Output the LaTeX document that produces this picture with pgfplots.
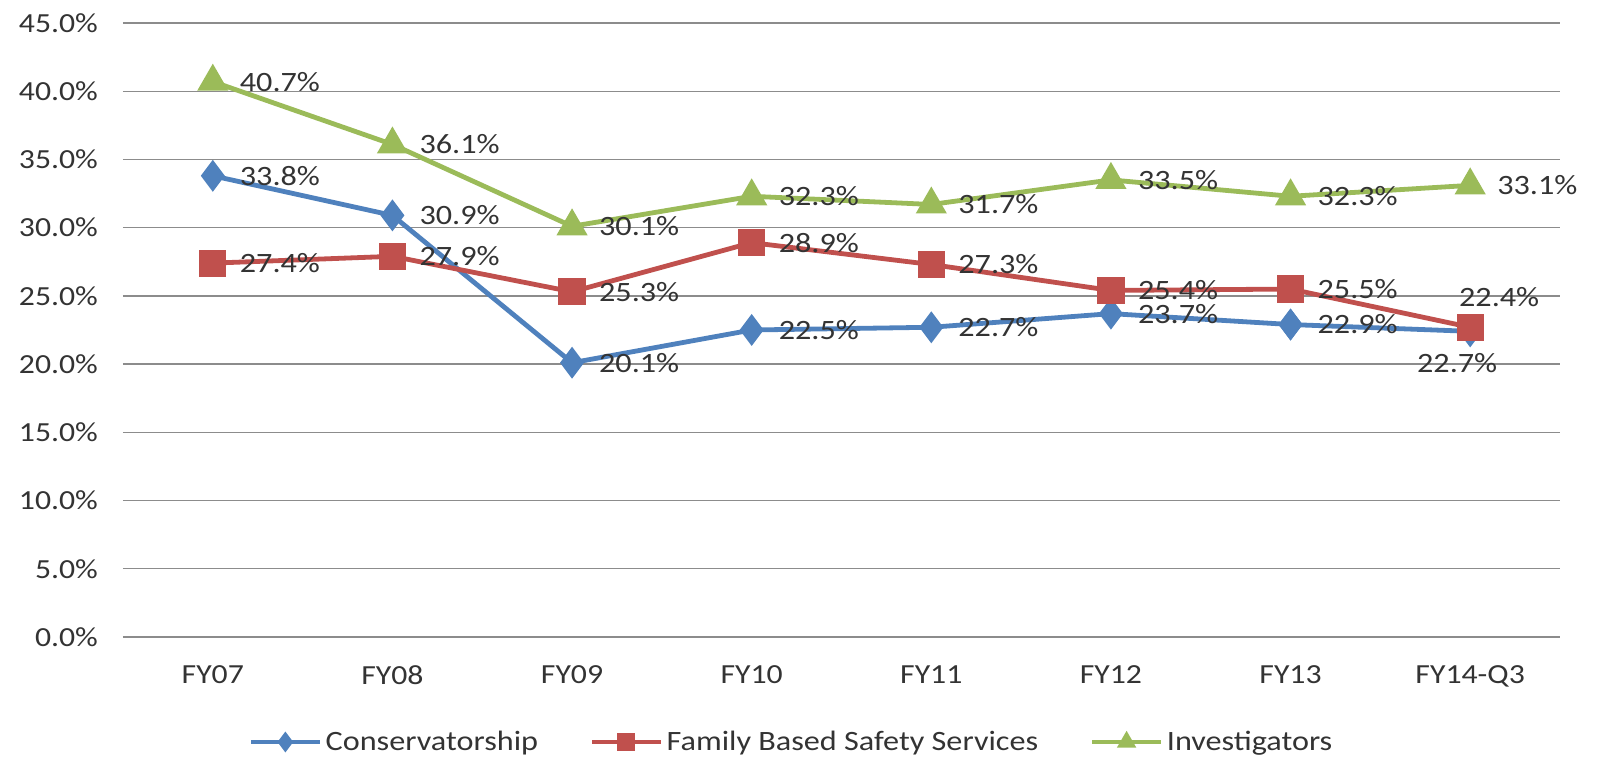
\documentclass[border=0pt]{standalone}
\usepackage{fontspec}
\setmainfont{Carlito}[FakeStretch=1.15]
\usepackage{pgfplots}
\usepackage{pgfplotstable}
\pgfplotsset{compat=1.18}
\definecolor{cblue}{HTML}{4F81BD}
\definecolor{cred}{HTML}{C0504D}
\definecolor{cgreen}{HTML}{9BBB59}
\definecolor{txt}{HTML}{333333}
\pgfplotstableread{
x y lab
0 33.8 33.8\%
1 30.9 30.9\%
2 20.1 20.1\%
3 22.5 22.5\%
4 22.7 22.7\%
5 23.7 23.7\%
6 22.9 22.9\%
}\cons
\pgfplotstableread{
x y lab
0 27.4 27.4\%
1 27.9 27.9\%
2 25.3 25.3\%
3 28.9 28.9\%
4 27.3 27.3\%
5 25.4 25.4\%
6 25.5 25.5\%
}\fbss
\pgfplotstableread{
x y lab
0 40.7 40.7\%
1 36.1 36.1\%
2 30.1 30.1\%
3 32.3 32.3\%
4 31.7 31.7\%
5 33.5 33.5\%
6 32.3 32.3\%
7 33.1 33.1\%
}\inv
\begin{document}
\begin{tikzpicture}
\useasboundingbox (-61.5pt,-64pt) rectangle (739pt,318.5pt);
\begin{axis}[
  scale only axis,
  width=718.5pt, height=307pt,
  xmin=-0.5, xmax=7.5, ymin=0, ymax=45,
  xtick={0,...,7},
  xticklabels={FY07,FY08,FY09,FY10,FY11,FY12,FY13,FY14-Q3},
  ytick={0,5,...,45},
  yticklabels={0.0\%,5.0\%,10.0\%,15.0\%,20.0\%,25.0\%,30.0\%,35.0\%,40.0\%,45.0\%},
  axis line style={draw=none},
  major tick length=0pt,
  ymajorgrids,
  grid style={draw=black!45, line width=0.7pt},
  tick label style={font=\fontsize{13.8}{15}\selectfont, text=txt},
  yticklabel style={xshift=-9pt},
  xticklabel style={yshift=-11pt},
  clip=false,
  every axis plot/.append style={line width=2.4pt},
  nodes near coords style={font=\fontsize{14}{16}\selectfont, text=txt, anchor=west, xshift=9pt},
  legend style={at={(0.466,-0.171)}, anchor=center, draw=none, fill=none,
    font=\fontsize{14}{15}\selectfont, text=txt,
    legend columns=-1, /tikz/every even column/.append style={column sep=24pt}},
  legend image code/.code={\draw[mark repeat=2,mark phase=2,line width=2.2pt] plot coordinates {(0cm,0cm)(0.6cm,0cm)(1.2cm,0cm)};},
  every legend image post/.append style={mark size=3.4pt},
]
\addplot[color=cblue, mark=diamond*, mark size=6pt, mark options={solid},
  nodes near coords, point meta=explicit symbolic]
  table[x=x,y=y,meta=lab] {\cons};
\addlegendentry{Conservatorship}
\addplot[color=cred, mark=square*, mark size=5.6pt,
  nodes near coords, point meta=explicit symbolic]
  table[x=x,y=y,meta=lab] {\fbss};
\addlegendentry{Family Based Safety Services}
\addplot[color=cgreen, mark=triangle*, mark size=6.6pt,
  nodes near coords, point meta=explicit symbolic]
  table[x=x,y=y,meta=lab] {\inv};
\addlegendentry{Investigators}
% last segments
\addplot[color=cblue, mark=diamond*, mark size=6pt, forget plot] coordinates {(6,22.9) (7,22.4)};
\addplot[color=cred, mark=square*, mark size=5.6pt, forget plot] coordinates {(6,25.5) (7,22.7)};
\addplot[draw=none, mark=none, forget plot, nodes near coords={22.4\%},
  nodes near coords style={anchor=center, xshift=5.5pt, yshift=17pt}] coordinates {(7,22.4)};
\addplot[draw=none, mark=none, forget plot, nodes near coords={22.7\%},
  nodes near coords style={anchor=center, xshift=-15.5pt, yshift=-18pt}] coordinates {(7,22.7)};
\end{axis}
\end{tikzpicture}
\end{document}
